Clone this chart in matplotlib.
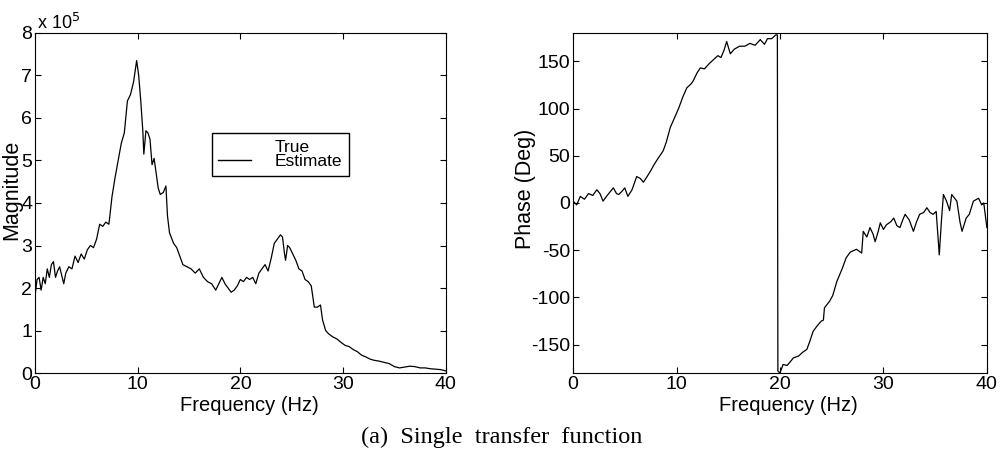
import matplotlib
matplotlib.use("Agg")
import matplotlib.pyplot as plt
from matplotlib.lines import Line2D

plt.rcParams['font.family'] = ['Liberation Sans', 'DejaVu Sans']
plt.rcParams['axes.unicode_minus'] = False

# ===== DATA =====
# magnitude in units of 1e5
mag_freq = [0, 0.2, 0.4, 0.6, 0.8, 1.0, 1.2, 1.4, 1.6, 1.8, 2.0, 2.2, 2.4, 2.6, 2.8, 3.0,
            3.3, 3.6, 3.9, 4.2, 4.5, 4.8, 5.1, 5.4, 5.7, 6.0, 6.3, 6.6, 6.9, 7.2, 7.5, 7.8,
            8.1, 8.4, 8.7, 9.0, 9.3, 9.6, 9.9, 10.1, 10.3, 10.5, 10.6, 10.8, 11.0, 11.2,
            11.4, 11.6, 11.8, 12.0, 12.2, 12.5, 12.75, 12.9, 13.1, 13.5, 13.8, 14.1, 14.4,
            14.8, 15.2, 15.6, 16.0, 16.4, 16.8, 17.2, 17.6, 17.9, 18.2, 18.5, 18.8, 19.1,
            19.4, 19.7, 20.0, 20.3, 20.6, 20.9, 21.2, 21.5, 21.8, 22.1, 22.4, 22.7, 23.0,
            23.3, 23.6, 23.9, 24.1, 24.3, 24.4, 24.6, 24.8, 25.1, 25.4, 25.7, 26.0, 26.3,
            26.6, 26.9, 27.2, 27.5, 27.8, 28.0, 28.3, 28.6, 29.0, 29.4, 29.8, 30.2, 30.6,
            31.0, 31.4, 31.8, 32.2, 32.6, 33.0, 33.5, 34.0, 34.5, 35.0, 35.5, 36.0, 36.5,
            37.0, 37.5, 38.0, 38.5, 39.0, 39.5, 40.0]
mag_vals = [1.80, 2.20, 2.25, 1.95, 2.25, 2.10, 2.45, 2.25, 2.55, 2.62, 2.25, 2.40, 2.50,
            2.30, 2.10, 2.35, 2.50, 2.45, 2.75, 2.60, 2.80, 2.68, 2.90, 3.00, 2.95, 3.15,
            3.50, 3.45, 3.55, 3.50, 4.15, 4.60, 5.00, 5.40, 5.65, 6.40, 6.55, 6.85, 7.35,
            7.00, 6.40, 5.70, 5.15, 5.70, 5.65, 5.50, 4.90, 5.05, 4.70, 4.35, 4.20, 4.25,
            4.40, 3.70, 3.30, 3.05, 2.95, 2.75, 2.55, 2.50, 2.45, 2.35, 2.45, 2.25, 2.15,
            2.10, 1.95, 2.10, 2.25, 2.10, 2.00, 1.90, 1.95, 2.05, 2.20, 2.15, 2.25, 2.20,
            2.25, 2.10, 2.35, 2.45, 2.55, 2.40, 2.70, 3.05, 3.15, 3.25, 3.20, 2.80, 2.65,
            3.00, 2.95, 2.80, 2.65, 2.45, 2.40, 2.20, 2.15, 2.05, 1.55, 1.55, 1.60, 1.25,
            1.00, 0.92, 0.85, 0.80, 0.72, 0.65, 0.62, 0.55, 0.50, 0.42, 0.38, 0.33, 0.30,
            0.28, 0.25, 0.22, 0.15, 0.12, 0.14, 0.16, 0.15, 0.12, 0.12, 0.10, 0.09, 0.08,
            0.05]

phase_freq = [0, 0.35, 0.7, 1.1, 1.5, 1.9, 2.3, 2.6, 2.9, 3.3, 3.6, 3.9, 4.2, 4.4, 4.7,
              5.0, 5.3, 5.7, 6.15, 6.5, 6.8, 7.1, 7.5, 7.8, 8.2, 8.7, 9.0, 9.4, 9.8, 10.2,
              10.6, 11.0, 11.4, 11.6, 12.0, 12.3, 12.7, 13.2, 13.6, 14.0, 14.3, 14.6, 14.85,
              15.2, 15.6, 16.1, 16.6, 17.1, 17.6, 18.1, 18.5, 18.8, 19.2, 19.6, 19.75,
              19.8, 20.0, 20.3, 20.7, 21.3, 21.8, 22.2, 22.6, 22.9, 23.2, 23.6, 24.0, 24.2,
              24.3, 24.8, 25.1, 25.5, 26.0, 26.4, 26.8, 27.4, 27.9, 28.05, 28.4, 28.7, 29.0,
              29.2, 29.5, 29.7, 30.0, 30.3, 30.7, 31.0, 31.3, 31.6, 31.9, 32.1, 32.5, 32.9,
              33.2, 33.5, 33.9, 34.2, 34.5, 34.8, 35.1, 35.4, 35.6, 35.8, 36.1, 36.4, 36.6,
              37.1, 37.4, 37.6, 38.0, 38.3, 38.7, 39.2, 39.5, 39.7, 40.0]
phase_vals = [2, -2, 7, 4, 10, 8, 14, 10, 2, 8, 12, 16, 10, 9, 12,
              16, 7, 14, 28, 26, 22, 27, 34, 40, 47, 55, 64, 80, 90, 100,
              112, 122, 126, 129, 138, 143, 142, 148, 152, 156, 154, 162, 171,
              158, 163, 166, 166, 169, 167, 173, 168, 174, 174, 178, 178,
              -178, -180, -171, -172, -164, -162, -158, -155, -146, -136, -130, -125, -124,
              -111, -104, -98, -83, -70, -58, -52, -49, -53, -30, -36, -26, -33,
              -41, -30, -21, -28, -23, -20, -16, -24, -26, -17, -12, -18, -30,
              -20, -12, -10, -5, -10, -12, -9, -55, -20, 9, 2, -8, 9,
              2, -20, -30, -16, -12, 2, 5, -2, 0, -26]

mag_ticks = [0, 1, 2, 3, 4, 5, 6, 7, 8]
phase_ticks = [-150, -100, -50, 0, 50, 100, 150]
freq_ticks = [0, 10, 20, 30, 40]

fig = plt.figure(figsize=(10.02, 4.57), dpi=100)
ax1 = fig.add_axes([0.0349, 0.1838, 0.410, 0.744])
ax2 = fig.add_axes([0.5719, 0.1838, 0.413, 0.744])


def style(ax):
    ax.tick_params(direction='in', length=4, width=0.8, top=True, right=True,
                   labelsize=14, pad=2)
    for s in ax.spines.values():
        s.set_linewidth(0.8)
    ax.set_xticks(freq_ticks)
    ax.set_xlim(0, 40)
    ax.set_xlabel('Frequency (Hz)', fontsize=14.5)


# magnitude
ax1.plot(mag_freq, mag_vals, color='black', lw=0.9)
style(ax1)
ax1.set_ylim(0, 8)
ax1.set_yticks(mag_ticks)
ax1.set_ylabel('Magnitude', fontsize=15.5)
ax1.yaxis.set_label_coords(-0.031, 0.538)
ax1.xaxis.set_label_coords(0.523, -0.068)
ax1.text(0.005, 1.0, 'x 10$^5$', transform=ax1.transAxes, fontsize=13,
         ha='left', va='bottom')

handles = [Line2D([], [], color='white', lw=1),
           Line2D([], [], color='black', lw=1)]
ax1.legend(handles, ['True', 'Estimate'], loc='center',
           bbox_to_anchor=(0.443, 0.578, 0.309, 0.13), fontsize=12.5,
           frameon=True, fancybox=False, edgecolor='black', framealpha=1,
           handlelength=1.85, borderpad=0.4, labelspacing=-0.1,
           handletextpad=1.4, borderaxespad=0)

# phase
ax2.plot(phase_freq, phase_vals, color='black', lw=0.9)
style(ax2)
ax2.set_ylim(-180, 180)
ax2.set_yticks(phase_ticks)
ax2.set_ylabel('Phase (Deg)', fontsize=15.5)
ax2.yaxis.set_label_coords(-0.090, 0.541)
ax2.xaxis.set_label_coords(0.52, -0.068)

fig.text(0.501, 0.042, '(a)  Single  transfer  function', fontsize=17.5,
         family=['Liberation Serif', 'DejaVu Serif'], ha='center', va='center')

fig.savefig('out.png', dpi=100)
